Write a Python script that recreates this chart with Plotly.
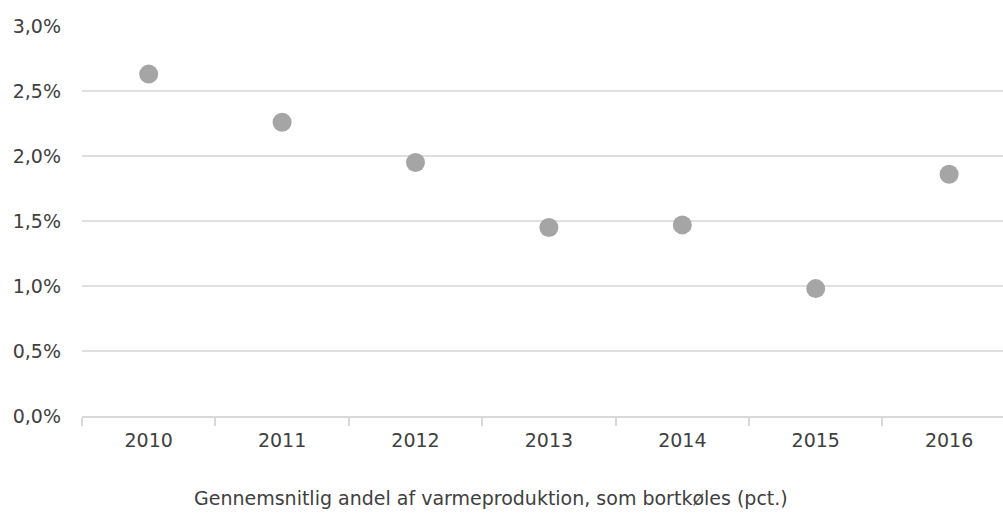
import plotly.graph_objects as go

years = ['2010', '2011', '2012', '2013', '2014', '2015', '2016']
share = [0.0263, 0.0226, 0.0195, 0.0145, 0.0147, 0.0098, 0.0186]

fig = go.Figure()

fig.add_trace(go.Scatter(
    x=years,
    y=share,
    mode='markers',
    marker=dict(color='#a5a5a5', size=19),
    showlegend=False,
    cliponaxis=False
))

fig.update_layout(
    width=1003,
    height=525,
    margin=dict(l=82, r=0, t=26, b=109),
    plot_bgcolor='white',
    paper_bgcolor='white',
    separators=',.',
    font=dict(family='DejaVu Sans', size=19, color='#404040'),
    xaxis=dict(
        type='category',
        range=[-0.5, 6.404],
        showgrid=False,
        showline=True,
        linecolor='#d9d9d9',
        linewidth=2,
        ticks='outside',
        tickson='boundaries',
        ticklen=8,
        tickcolor='#d9d9d9',
        tickwidth=2,
        ticklabelstandoff=6,
        automargin=False,
        fixedrange=True,
    ),
    yaxis=dict(
        range=[0, 0.03],
        dtick=0.005,
        tickformat='.1%',
        showgrid=True,
        gridcolor='#e0e0e0',
        gridwidth=2,
        zeroline=False,
        ticks='',
        ticklabelstandoff=20,
        automargin=False,
    ),
    annotations=[dict(
        text='Gennemsnitlig andel af varmeproduktion, som bortkøles (pct.)',
        xref='paper', yref='paper',
        x=0.444, y=-0.21,
        xanchor='center', yanchor='middle',
        showarrow=False,
        font=dict(size=19, color='#404040')
    )]
)

# drop the default page margin so the figure sits at the window corner
fig.write_html(
    "out.html",
    config={'displayModeBar': False},
    post_script="document.body.style.margin='0';"
)
